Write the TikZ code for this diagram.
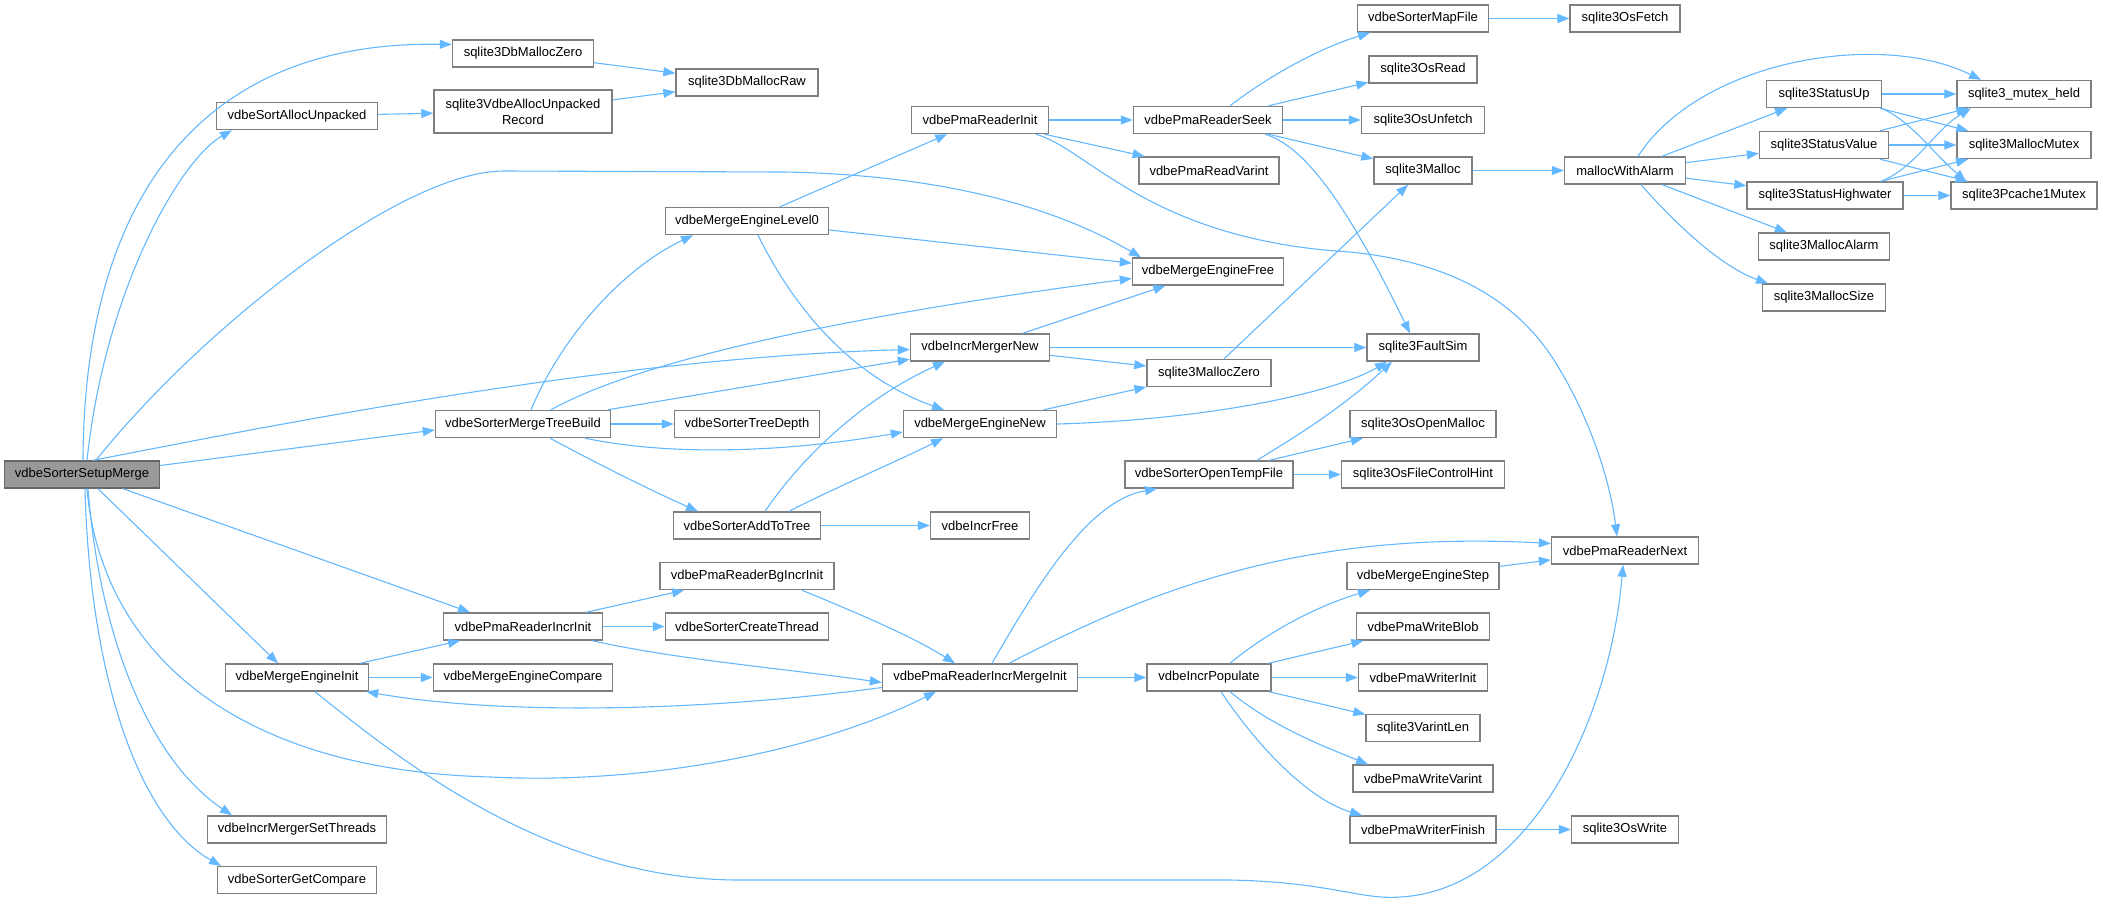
\documentclass[tikz,border=0pt]{standalone}
\usepackage{fontspec}
\setmainfont{Liberation Sans}
\usetikzlibrary{arrows.meta}
\definecolor{edgec}{HTML}{63B8FF}
\definecolor{bordc}{HTML}{7F7F7F}
\definecolor{rootfill}{HTML}{999999}
\definecolor{rootbord}{HTML}{666666}
\begin{document}
\begin{tikzpicture}[x=1pt,y=-1pt,
  fn/.style={draw=bordc,fill=white,line width=1.4pt,minimum height=27pt,inner sep=0pt,font=\fontsize{13}{16}\selectfont},
  rootfn/.style={fn,fill=rootfill,draw=rootbord},
  ed/.style={draw=edgec,line width=1.1pt,-{Triangle[length=12pt,width=9pt]}}]
\useasboundingbox (0,0) rectangle (2103,903);
% column 0
\node[rootfn,minimum width=155] (SM) at (82,474.5) {vdbeSorterSetupMerge};
% column 1
\node[fn,minimum width=161] (SAU) at (297,116) {vdbeSortAllocUnpacked};
\node[fn,minimum width=143] (MEI) at (297,677.5) {vdbeMergeEngineInit};
\node[fn,minimum width=179] (IMST) at (297,829.5) {vdbeIncrMergerSetThreads};
\node[fn,minimum width=159] (SGC) at (297,880) {vdbeSorterGetCompare};
% column 2
\node[fn,minimum width=141] (DMZ) at (523,53.5) {sqlite3DbMallocZero};
\node[fn,minimum width=178,minimum height=43pt,align=center] (VAUR) at (523,111.5) {sqlite3VdbeAllocUnpacked\\Record};
\node[fn,minimum width=175] (MTB) at (523,424) {vdbeSorterMergeTreeBuild};
\node[fn,minimum width=159] (PRII) at (523,626.5) {vdbePmaReaderIncrInit};
\node[fn,minimum width=179] (MEC) at (523,677.5) {vdbeMergeEngineCompare};
% column 3
\node[fn,minimum width=142] (DMR) at (747,82.5) {sqlite3DbMallocRaw};
\node[fn,minimum width=163] (MEL0) at (747,221) {vdbeMergeEngineLevel0};
\node[fn,minimum width=145] (STD) at (747,424) {vdbeSorterTreeDepth};
\node[fn,minimum width=147] (SAT) at (747,525.5) {vdbeSorterAddToTree};
\node[fn,minimum width=174] (PRBII) at (747,576) {vdbePmaReaderBgIncrInit};
\node[fn,minimum width=163] (SCT) at (747,626.5) {vdbeSorterCreateThread};
% column 4
\node[fn,minimum width=137] (PRI) at (980,120) {vdbePmaReaderInit};
\node[fn,minimum width=139] (IMN) at (980,347.5) {vdbeIncrMergerNew};
\node[fn,minimum width=153] (MEN) at (980,424) {vdbeMergeEngineNew};
\node[fn,minimum width=99] (IF) at (980,525.5) {vdbeIncrFree};
\node[fn,minimum width=195] (PRIMI) at (980,677.5) {vdbePmaReaderIncrMergeInit};
% column 5
\node[fn,minimum width=149] (PRS) at (1208,120) {vdbePmaReaderSeek};
\node[fn,minimum width=140] (PRV) at (1209,170.5) {vdbePmaReadVarint};
\node[fn,minimum width=151] (MEF) at (1208,271.5) {vdbeMergeEngineFree};
\node[fn,minimum width=124] (MZ) at (1209,373) {sqlite3MallocZero};
\node[fn,minimum width=168] (SOTF) at (1209,474.5) {vdbeSorterOpenTempFile};
\node[fn,minimum width=124] (IP) at (1209,677.5) {vdbeIncrPopulate};
% column 6
\node[fn,minimum width=131] (SMF) at (1423,18.5) {vdbeSorterMapFile};
\node[fn,minimum width=108] (OR) at (1423,69.5) {sqlite3OsRead};
\node[fn,minimum width=123] (OU) at (1423,120) {sqlite3OsUnfetch};
\node[fn,minimum width=98] (M) at (1423,170.5) {sqlite3Malloc};
\node[fn,minimum width=112] (FS) at (1423,347.5) {sqlite3FaultSim};
\node[fn,minimum width=146] (OOM) at (1423,424) {sqlite3OsOpenMalloc};
\node[fn,minimum width=163] (OFCH) at (1423,474.5) {sqlite3OsFileControlHint};
\node[fn,minimum width=152] (MES) at (1423,576) {vdbeMergeEngineStep};
\node[fn,minimum width=133] (PWB) at (1423,626.5) {vdbePmaWriteBlob};
\node[fn,minimum width=129] (PWI) at (1423,677.5) {vdbePmaWriterInit};
\node[fn,minimum width=114] (VL) at (1423,728) {sqlite3VarintLen};
\node[fn,minimum width=140] (PWV) at (1423,778.5) {vdbePmaWriteVarint};
\node[fn,minimum width=146] (PWF) at (1423,829.5) {vdbePmaWriterFinish};
% column 7
\node[fn,minimum width=110] (OF) at (1625,18.5) {sqlite3OsFetch};
\node[fn,minimum width=121] (MWA) at (1625,170.5) {mallocWithAlarm};
\node[fn,minimum width=147] (PRN) at (1625,550.5) {vdbePmaReaderNext};
\node[fn,minimum width=107] (OW) at (1625,829.5) {sqlite3OsWrite};
% column 8
\node[fn,minimum width=115] (SU) at (1824,94) {sqlite3StatusUp};
\node[fn,minimum width=129] (SV) at (1824,145) {sqlite3StatusValue};
\node[fn,minimum width=156] (SH) at (1825,195.5) {sqlite3StatusHighwater};
\node[fn,minimum width=131] (MA) at (1824,246.5) {sqlite3MallocAlarm};
\node[fn,minimum width=123] (MS) at (1824,297.5) {sqlite3MallocSize};
% column 9
\node[fn,minimum width=134] (MH) at (2024,94) {sqlite3\_mutex\_held};
\node[fn,minimum width=134] (MM) at (2024,145) {sqlite3MallocMutex};
\node[fn,minimum width=146] (PM) at (2024,195.5) {sqlite3Pcache1Mutex};

% edges from vdbeSorterSetupMerge
\draw[ed] ([xshift=1]SM.north) .. controls (84,200) and (200,40) .. ([yshift=9]DMZ.west);
\draw[ed] ([xshift=5]SM.north) .. controls (105,290) and (180,160) .. ([xshift=-65]SAU.south);
\draw[ed] ([xshift=14]SM.north) .. controls (200,330) and (400,171) .. (504,171) -- (784,172) .. controls (950,175) and (1060,210) .. ([xshift=-67]MEF.north);
\draw[ed] ([xshift=11]SM.north) .. controls (250,430) and (600,358) .. ([yshift=-2]IMN.west);
\draw[ed] ([yshift=9]SM.east) -- ([yshift=-6]MTB.west);
\draw[ed] ([xshift=41]SM.south) -- ([xshift=-53]PRII.north);
\draw[ed] ([xshift=16]SM.south) -- ([xshift=-19]MEI.north);
\draw[ed] ([xshift=5]SM.south) .. controls (100,640) and (220,770) .. (491,777) .. controls (650,785) and (820,750) .. ([xshift=-44]PRIMI.south);
\draw[ed] ([xshift=6]SM.south) .. controls (100,640) and (150,760) .. ([xshift=-65]IMST.north);
\draw[ed] ([xshift=3]SM.south) .. controls (90,680) and (140,820) .. ([xshift=-76]SGC.north);
% top group
\draw[ed] (SAU) -- (VAUR);
\draw[ed] (DMZ) -- (DMR);
\draw[ed] (VAUR) -- (DMR);
% vdbeSorterMergeTreeBuild
\draw[ed] ([xshift=8]MTB.north) .. controls (560,340) and (620,270) .. ([xshift=-54]MEL0.south);
\draw[ed] ([xshift=28]MTB.north) .. controls (640,360) and (850,315) .. ([yshift=-7]MEF.west);
\draw[ed] (MTB) -- (IMN);
\draw[ed] (MTB) -- (STD);
\draw[ed] ([xshift=62]MTB.south) .. controls (680,458) and (800,450) .. ([yshift=-8]MEN.west);
\draw[ed] ([xshift=27]MTB.south) .. controls (600,465) and (650,490) .. ([xshift=-49]SAT.north);
% vdbeMergeEngineLevel0
\draw[ed] (MEL0) -- (PRI);
\draw[ed] (MEL0) -- (MEF);
\draw[ed] ([xshift=11]MEL0.south) .. controls (800,320) and (860,380) .. ([xshift=-36]MEN.north);
% vdbeSorterAddToTree
\draw[ed] ([xshift=18]SAT.north) .. controls (800,460) and (860,400) .. ([xshift=-35]IMN.south);
\draw[ed] ([xshift=42]SAT.north) .. controls (830,490) and (900,460) .. ([xshift=-37]MEN.south);
\draw[ed] (SAT) -- (IF);
% vdbeIncrMergerNew, vdbeMergeEngineNew
\draw[ed] (IMN) -- (MEF);
\draw[ed] (IMN) -- (FS);
\draw[ed] (IMN) -- (MZ);
\draw[ed] (MEN) -- (MZ);
\draw[ed] (MEN.east) .. controls (1200,420) and (1330,395) .. ([xshift=-36]FS.south);
\draw[ed] (MZ) -- (M);
% vdbePmaReaderInit
\draw[ed] (PRI) -- (PRS);
\draw[ed] (PRI) -- (PRV);
\draw[ed] ([xshift=56]PRI.south) .. controls (1090,150) and (1150,240) .. (1350,252) .. controls (1450,262) and (1520,300) .. (1560,370) .. controls (1590,420) and (1610,480) .. ([xshift=-8]PRN.north);
% vdbePmaReaderSeek
\draw[ed] ([xshift=22]PRS.north) .. controls (1270,75) and (1320,48) .. ([xshift=-53]SMF.south);
\draw[ed] (PRS) -- (OR);
\draw[ed] (PRS) -- (OU);
\draw[ed] (PRS) -- (M);
\draw[ed] ([xshift=57]PRS.south) .. controls (1300,145) and (1340,190) .. ([xshift=-13]FS.north);
\draw[ed] (SMF) -- (OF);
\draw[ed] (M) -- (MWA);
% mallocWithAlarm
\draw[ed] ([xshift=13]MWA.north) .. controls (1700,60) and (1880,30) .. ([xshift=-43]MH.north);
\draw[ed] (MWA) -- (SU);
\draw[ed] (MWA) -- (SV);
\draw[ed] (MWA) -- (SH);
\draw[ed] (MWA) -- (MA);
\draw[ed] ([xshift=16]MWA.south) .. controls (1690,240) and (1730,270) .. ([xshift=-56]MS.north);
% status functions
\draw[ed] (SU) -- (MH);
\draw[ed] (SU) -- (MM);
\draw[ed] ([xshift=57]SU.south) .. controls (1910,120) and (1930,150) .. ([xshift=-58]PM.north);
\draw[ed] (SV) -- (MH);
\draw[ed] (SV) -- (MM);
\draw[ed] (SV) -- (PM);
\draw[ed] ([xshift=56]SH.north) .. controls (1915,168) and (1935,130) .. ([xshift=-53]MH.south);
\draw[ed] (SH) -- (MM);
\draw[ed] (SH) -- (PM);
% vdbeSorterOpenTempFile
\draw[ed] ([xshift=48]SOTF.north) .. controls (1290,440) and (1340,410) .. ([xshift=-31]FS.south);
\draw[ed] (SOTF) -- (OOM);
\draw[ed] (SOTF) -- (OFCH);
% vdbePmaReaderIncrInit
\draw[ed] (PRII) -- (PRBII);
\draw[ed] (PRII) -- (SCT);
\draw[ed] ([xshift=69]PRII.south) .. controls (680,660) and (780,668) .. ([yshift=-5]PRIMI.west);
\draw[ed] ([xshift=55]PRBII.south) .. controls (850,610) and (910,635) .. ([xshift=-25]PRIMI.north);
% vdbeMergeEngineInit
\draw[ed] (MEI) -- (PRII);
\draw[ed] (MEI) -- (MEC);
\draw[ed] ([xshift=18]MEI.south) .. controls (400,760) and (550,880) .. (739,880) -- (1230,880) .. controls (1330,882) and (1360,900) .. (1400,897) .. controls (1530,890) and (1610,720) .. ([xshift=-2]PRN.south);
% vdbePmaReaderIncrMergeInit
\draw[ed] ([yshift=-10]PRIMI.west) .. controls (700,712) and (500,715) .. ([xshift=-3]MEI.south east);
\draw[ed] ([xshift=12]PRIMI.north) .. controls (1040,580) and (1090,500) .. ([xshift=-52]SOTF.south);
\draw[ed] ([xshift=29]PRIMI.north) .. controls (1150,590) and (1300,530) .. ([yshift=7]PRN.west);
\draw[ed] (PRIMI) -- (IP);
% vdbeIncrPopulate
\draw[ed] ([xshift=21]IP.north) .. controls (1270,630) and (1320,605) .. ([xshift=-53]MES.south);
\draw[ed] (IP) -- (PWB);
\draw[ed] (IP) -- (PWI);
\draw[ed] (IP) -- (VL);
\draw[ed] ([xshift=21]IP.south) .. controls (1270,725) and (1320,745) .. ([xshift=-55]PWV.north);
\draw[ed] ([xshift=12]IP.south) .. controls (1260,750) and (1310,800) .. ([xshift=-61]PWF.north);
\draw[ed] (MES) -- (PRN);
\draw[ed] (PWF) -- (OW);
\end{tikzpicture}
\end{document}
